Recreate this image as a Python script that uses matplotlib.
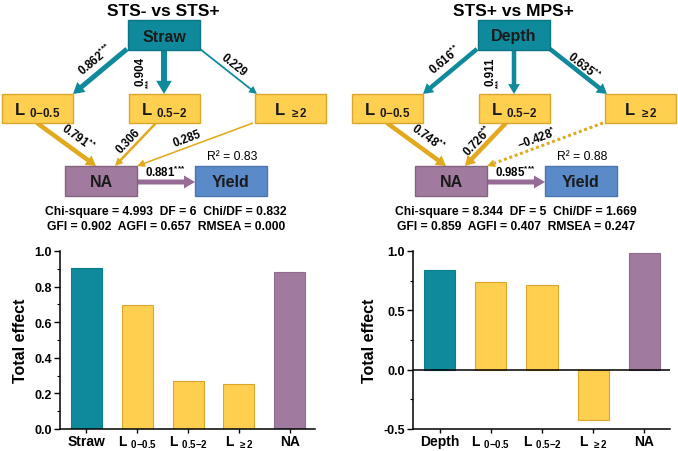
import numpy as np
import matplotlib
matplotlib.use('Agg')
import matplotlib.pyplot as plt
from matplotlib.patches import Rectangle
from matplotlib.ticker import MultipleLocator

plt.rcParams['font.family'] = ['Liberation Sans', 'DejaVu Sans']
plt.rcParams['mathtext.fontset'] = 'custom'
plt.rcParams['mathtext.rm'] = 'Liberation Sans'
plt.rcParams['mathtext.bf'] = 'Liberation Sans:bold'
plt.rcParams['mathtext.it'] = 'Liberation Sans:italic'

# colours
TEAL = '#0f8a9c'
YEL = '#ffcf50'
YEL_EDGE = '#dca62c'
YEL_ARROW = '#e2a91c'
PURP = '#a07b9f'
PURP_ARROW = '#976b96'
BLUE = '#5b8ac8'

# ---- data ----
titles = ['STS- vs STS+', 'STS+ vs MPS+']
drivers = ['Straw', 'Depth']
coef_driver = [[0.862, 0.904, 0.229], [0.616, 0.911, 0.635]]
stars_driver = [['***', '***', ''], ['**', '***', '**']]
coef_na = [[0.791, 0.306, 0.285], [0.748, 0.726, -0.428]]
stars_na = [['**', '', ''], ['**', '**', '*']]
coef_yield = [0.881, 0.985]
stars_yield = ['***', '***']
r2 = [0.83, 0.88]
chi_sq = [4.993, 8.344]
dof = [6, 5]
chi_df = [0.832, 1.669]
gfi = [0.902, 0.859]
agfi = [0.657, 0.407]
rmsea = [0.000, 0.247]

subs = ['0{-}0.5', '0.5{-}2', r'\geq 2']
effect_left = [0.902, 0.697, 0.270, 0.251, 0.881]
effect_right = [0.838, 0.737, 0.715, -0.425, 0.985]

# ---- layout (pixel space of a 678x452 canvas) ----
W, H = 678, 452
fig = plt.figure(figsize=(W / 100, H / 100), dpi=100)
ov = fig.add_axes([0, 0, 1, 1])
ov.set_xlim(0, W)
ov.set_ylim(H, 0)
ov.axis('off')

offsets = [0, 350]
drv_box = (128, 21, 72, 30)
l_boxes = [(2, 95, 71, 29), (129, 95, 71, 29), (255, 95, 71, 29)]
na_box = (65, 167, 72, 30)
y_box = (195, 167, 72, 30)

# arrow geometry
drv_arrows = [((127, 50), (73, 95)), ((164, 50), (164, 95)), ((200, 50), (257, 95))]
na_arrows = [((37, 124), (96, 167)), ((156, 124), (115, 167)), ((253, 124), (137, 167))]
drv_lab = [(95, 60), (140, 72), (234, 66)]
na_lab = [(78, 138), (128, 141), (187, 139)]
drv_width = [[5, 6, 1.8], [4.5, 4.5, 4.5]]
na_width = [[4.5, 2.5, 1.6], [4.5, 4.5, 3]]
na_dotted = [[False, False, False], [False, False, True]]


def box(x, y, w, h, fc, ec, off):
    ov.add_patch(Rectangle((x + off, y), w, h, facecolor=fc, edgecolor=ec, lw=1, zorder=3))


def arrow(p0, p1, width, color, off, dotted=False):
    x0, y0 = p0[0] + off, p0[1]
    x1, y1 = p1[0] + off, p1[1]
    hw = max(8, width * 2.6)
    hl = max(8, width * 2.2)
    if dotted:
        L = np.hypot(x1 - x0, y1 - y0)
        ux, uy = (x1 - x0) / L, (y1 - y0) / L
        ov.plot([x0, x1 - ux * hl], [y0, y1 - uy * hl], color=color, lw=width * 0.72,
                linestyle=(0, (1, 0.9)), solid_capstyle='butt', zorder=2)
        ov.arrow(x1 - ux * hl, y1 - uy * hl, ux * hl, uy * hl, width=0.1, head_width=hw,
                 head_length=hl, length_includes_head=True, color=color, lw=0, zorder=2)
    else:
        ov.arrow(x0, y0, x1 - x0, y1 - y0, width=width, head_width=hw, head_length=hl,
                 length_includes_head=True, color=color, lw=0, zorder=2)


def rot_of(p0, p1):
    dx, dy = p1[0] - p0[0], p1[1] - p0[1]
    if dx == 0:
        return 90
    return -np.degrees(np.arctan(dy / dx))


def coef_text(v, s):
    if s:
        st = ''.join('{*}' for _ in s)
        return r'$\mathbf{%s}^{\mathbf{%s}}$' % (f'{v:.3f}', st)
    return f'{v:.3f}'


def l_label(sub):
    return r'$\mathbf{L}_{\ \,\mathbf{%s}}$' % sub


for k, off in enumerate(offsets):
    cx = drv_box[0] + drv_box[2] / 2 + off
    ov.text(cx - 1, 11, titles[k], ha='center', va='center', fontsize=12.5, fontweight='bold')

    # boxes
    box(*drv_box, TEAL, '#0b7585', off)
    ov.text(cx, drv_box[1] + drv_box[3] / 2 + 1, drivers[k], ha='center', va='center',
            fontsize=11.5, fontweight='bold', color='#1a1a1a', zorder=4)
    for j, b in enumerate(l_boxes):
        box(*b, YEL, YEL_EDGE, off)
        ov.text(b[0] + b[2] / 2 + off, b[1] + b[3] / 2 + 1, l_label(subs[j]),
                ha='center', va='center', fontsize=12, color='#1a1a1a', zorder=4)
    box(*na_box, PURP, '#85637f', off)
    ov.text(na_box[0] + na_box[2] / 2 + off, na_box[1] + na_box[3] / 2 + 1, 'NA',
            ha='center', va='center', fontsize=11.5, fontweight='bold', color='#1a1a1a', zorder=4)
    box(*y_box, BLUE, '#4a76b0', off)
    ov.text(y_box[0] + y_box[2] / 2 + off, y_box[1] + y_box[3] / 2 + 1, 'Yield',
            ha='center', va='center', fontsize=11.5, fontweight='bold', color='#1a1a1a', zorder=4)

    # driver -> L arrows
    for j, (p0, p1) in enumerate(drv_arrows):
        arrow(p0, p1, drv_width[k][j], TEAL, off)
        lx, ly = drv_lab[j]
        if j == 1:
            ov.text(lx + off, ly, f'{coef_driver[k][j]:.3f}', rotation=90, ha='center',
                    va='center', fontsize=8.3, fontweight='bold')
            ov.text(lx + off + 9, ly + 12, stars_driver[k][j], rotation=90, ha='center',
                    va='center', fontsize=5.5, fontweight='bold')
        else:
            ov.text(lx + off, ly, coef_text(coef_driver[k][j], stars_driver[k][j]),
                    rotation=rot_of(p0, p1), rotation_mode='anchor', ha='center',
                    va='center', fontsize=8.3, fontweight='bold')

    # L -> NA arrows
    for j, (p0, p1) in enumerate(na_arrows):
        arrow(p0, p1, na_width[k][j], YEL_ARROW, off, dotted=na_dotted[k][j])
        lx, ly = na_lab[j]
        ov.text(lx + off, ly, coef_text(coef_na[k][j], stars_na[k][j]),
                rotation=rot_of(p0, p1), rotation_mode='anchor', ha='center',
                va='center', fontsize=8.3, fontweight='bold')

    # NA -> Yield
    arrow((137, 183), (195, 183), 5, PURP_ARROW, off)
    ov.text(165 + off, 172, coef_text(coef_yield[k], stars_yield[k]), ha='center',
            va='center', fontsize=8.3, fontweight='bold')
    ov.text(232 + off, 157, f'R\u00b2 = {r2[k]:.2f}', ha='center', va='center', fontsize=8.7)

    ov.text(166 + off, 212,
            f'Chi-square = {chi_sq[k]:.3f}  DF = {dof[k]}  Chi/DF = {chi_df[k]:.3f}',
            ha='center', va='center', fontsize=8.7, fontweight='bold')
    ov.text(166 + off, 227,
            f'GFI = {gfi[k]:.3f}  AGFI = {agfi[k]:.3f}  RMSEA = {rmsea[k]:.3f}',
            ha='center', va='center', fontsize=8.7, fontweight='bold')

# ---- total effect bar charts ----
bar_colors = [TEAL, YEL, YEL, YEL, PURP]
bar_edges = ['#0c7d8f', YEL_EDGE, YEL_EDGE, YEL_EDGE, '#8f6d8d']


def bar_panel(rect, first, vals, ylim, major, minor, fmt):
    ax = fig.add_axes(rect)
    x = np.arange(len(vals))
    ax.bar(x, vals, width=0.61, color=bar_colors, edgecolor=bar_edges, linewidth=0.8, zorder=2)
    ax.set_xlim(-0.52, 4.5)
    ax.set_ylim(*ylim)
    ax.yaxis.set_major_locator(MultipleLocator(major))
    ax.yaxis.set_minor_locator(MultipleLocator(minor))
    ax.yaxis.set_major_formatter(plt.FuncFormatter(fmt))
    for s in ['top', 'right']:
        ax.spines[s].set_visible(False)
    for s in ['left', 'bottom']:
        ax.spines[s].set_linewidth(1.1)
    ax.set_xticks(x)
    names = [first] + [l_label(s) for s in subs] + ['NA']
    ax.set_xticklabels(names, fontsize=10, fontweight='bold')
    ax.tick_params(axis='x', direction='out', length=3, width=1, pad=0.5)
    ax.tick_params(axis='y', which='major', direction='out', length=4, width=1, labelsize=9, pad=2)
    ax.tick_params(axis='y', which='minor', direction='out', length=2.5, width=0.8)
    for t in ax.get_yticklabels():
        t.set_fontweight('bold')
    ax.set_ylabel('Total effect', fontsize=11.5, fontweight='bold', labelpad=4)
    ax.patch.set_alpha(0)
    return ax


axl = bar_panel([60 / W, 22 / H, 255 / W, 178 / H], drivers[0], effect_left,
                (0, 1.0), 0.2, 0.1, lambda v, p: f'{v:.1f}')
axr = bar_panel([413 / W, 22 / H, 257 / W, 178 / H], drivers[1], effect_right,
                (-0.5, 1.0), 0.5, 0.25, lambda v, p: f'{v:.1f}')
axr.axhline(0, color='black', lw=1.1, zorder=3)

fig.savefig('out.png', dpi=100)
